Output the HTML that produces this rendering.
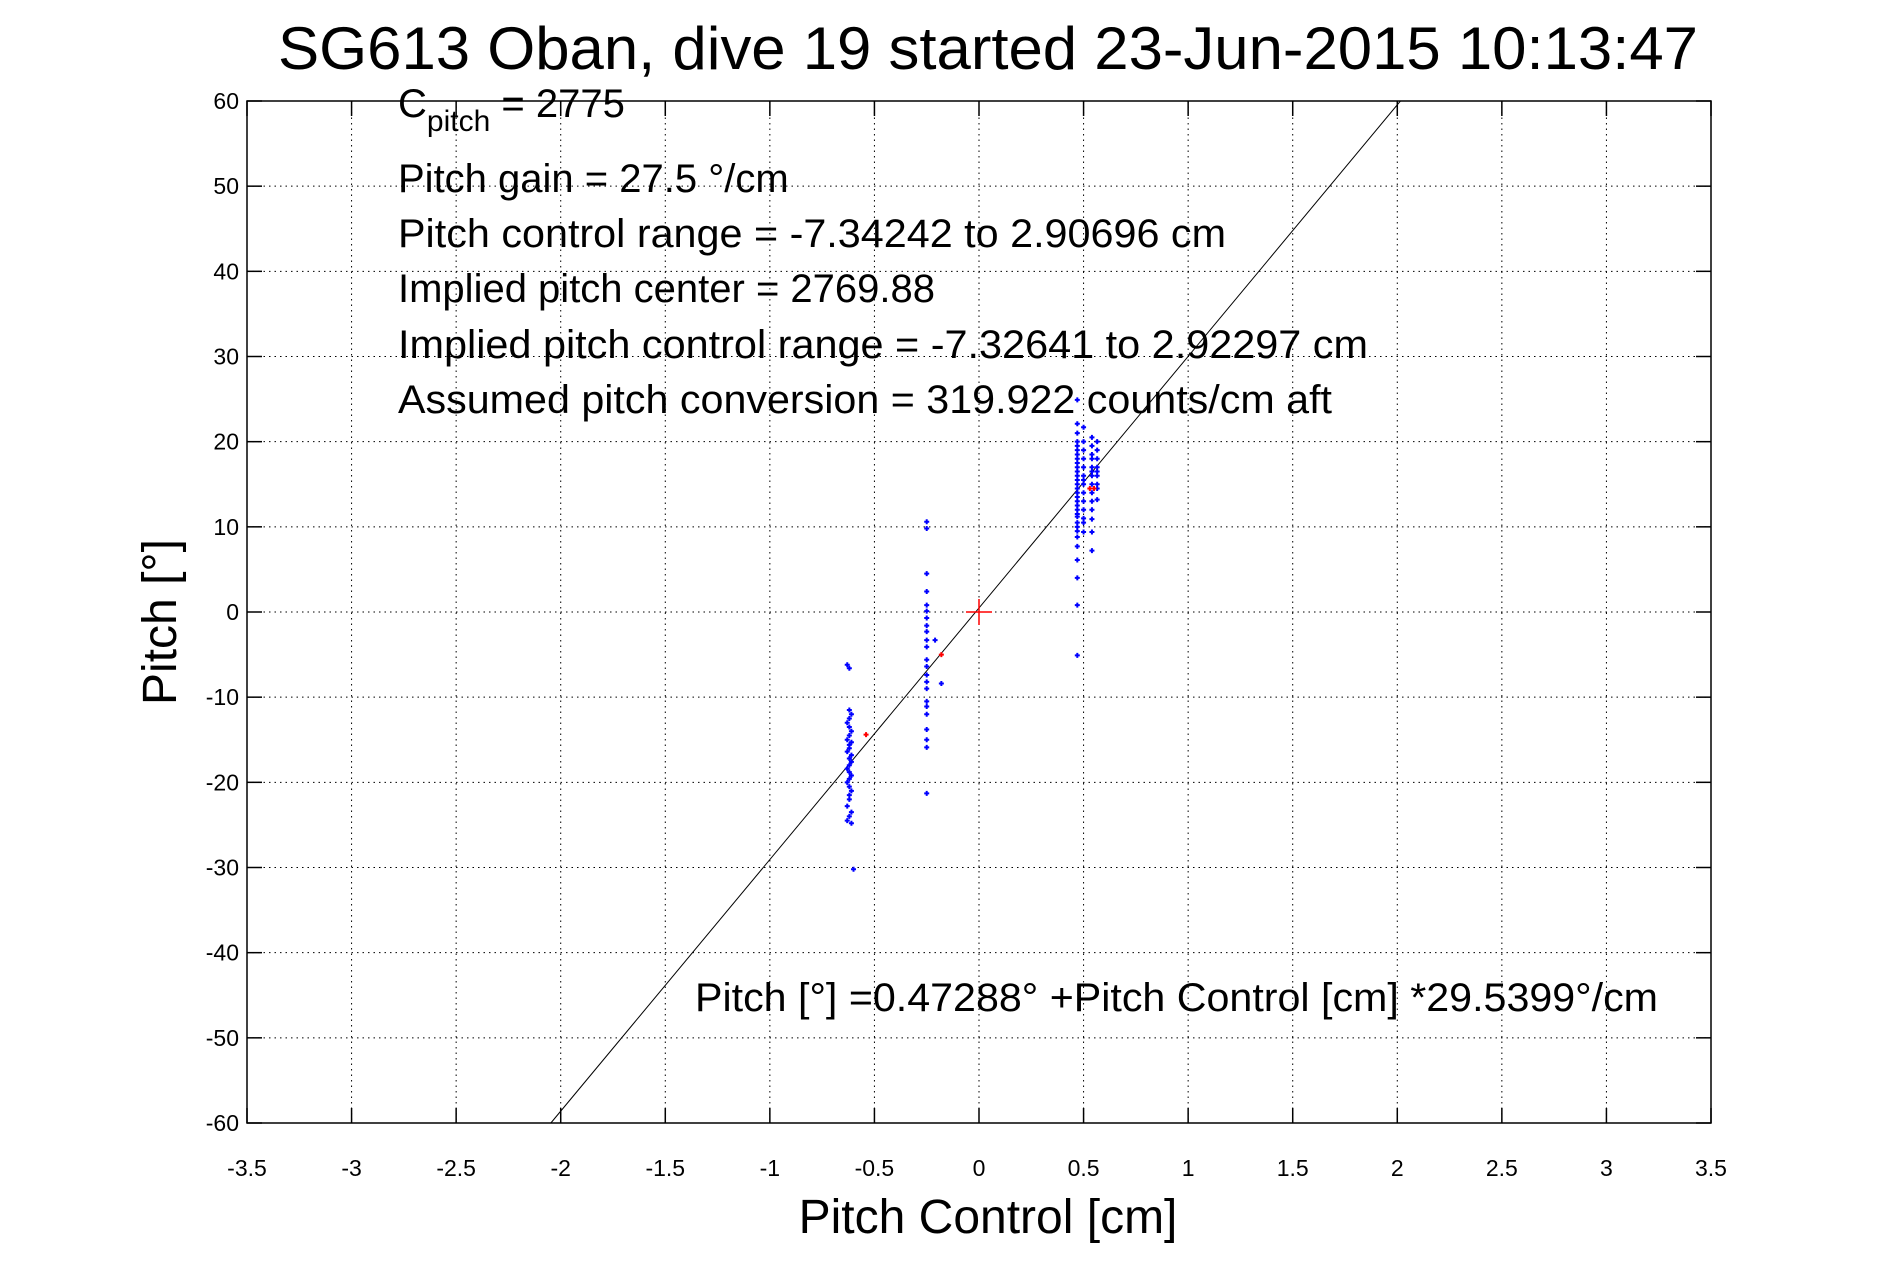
<!DOCTYPE html>
<html><head><meta charset="utf-8"><style>
body{margin:0;background:#fff}
svg{display:block;font-family:"Liberation Sans",sans-serif}
</style></head><body>
<svg id="chart" width="1891" height="1262" viewBox="0 0 1891 1262" xmlns="http://www.w3.org/2000/svg">
<rect width="1891" height="1262" fill="#fff"/>
<text x="988" y="69" font-size="60" text-anchor="middle" textLength="1420" lengthAdjust="spacingAndGlyphs">SG613 Oban, dive 19 started 23-Jun-2015 10:13:47</text>
<g id="grid"></g>
<g id="ticks"></g>
<g id="marks"></g>
<rect x="247" y="101" width="1464" height="1022" fill="none" stroke="#000" stroke-width="1.5"/>
<g font-size="40">
<text x="398" y="117">C<tspan font-size="30" dy="14">pitch</tspan><tspan dy="-14"> = 2775</tspan></text>
<text x="398" y="192">Pitch gain = 27.5 °/cm</text>
<text x="398" y="247" textLength="828" lengthAdjust="spacingAndGlyphs">Pitch control range = -7.34242 to 2.90696 cm</text>
<text x="398" y="302">Implied pitch center = 2769.88</text>
<text x="398" y="358" textLength="970" lengthAdjust="spacingAndGlyphs">Implied pitch control range = -7.32641 to 2.92297 cm</text>
<text x="398" y="413" textLength="934" lengthAdjust="spacingAndGlyphs">Assumed pitch conversion = 319.922 counts/cm aft</text>
<text x="695" y="1011" textLength="963" lengthAdjust="spacingAndGlyphs">Pitch [°] =0.47288° +Pitch Control [cm] *29.5399°/cm</text>
</g>
<text x="988" y="1233" font-size="48" text-anchor="middle">Pitch Control [cm]</text>
<text x="0" y="0" font-size="48" text-anchor="middle" transform="translate(176,622) rotate(-90)">Pitch [°]</text>
</svg>
<script>
const xTicks=[-3.5,-3,-2.5,-2,-1.5,-1,-0.5,0,0.5,1,1.5,2,2.5,3,3.5];
const yTicks=[60,50,40,30,20,10,0,-10,-20,-30,-40,-50,-60];
const fitIntercept=0.47288;
const fitSlope=29.5399;
const leftX=[-0.63,-0.62,-0.62,-0.61,-0.62,-0.63,-0.62,-0.61,-0.62,-0.63,-0.61,-0.62,-0.62,-0.63,-0.61,-0.62,-0.61,-0.62,-0.63,-0.62,-0.61,-0.62,-0.63,-0.62,-0.61,-0.62,-0.62,-0.63,-0.61,-0.62,-0.63,-0.61,-0.6];
const leftY=[-6.2,-6.6,-11.5,-12,-12.5,-13,-13.5,-14,-14.5,-15,-15.3,-15.6,-16,-16.4,-16.8,-17.2,-17.6,-18,-18.4,-18.8,-19.2,-19.6,-20,-20.5,-21,-21.5,-22,-22.8,-23.5,-24,-24.5,-24.8,-30.2];
const midX=[-0.25,-0.25,-0.25,-0.25,-0.25,-0.25,-0.25,-0.25,-0.25,-0.25,-0.25,-0.25,-0.25,-0.25,-0.25,-0.25,-0.25,-0.25,-0.25,-0.25,-0.25,-0.25,-0.25,-0.21,-0.18];
const midY=[10.6,9.8,4.5,2.4,0.8,0.1,-0.7,-1.6,-2.3,-3.3,-4.1,-5.6,-6.4,-7.4,-8.2,-9.0,-10.5,-11.1,-12.0,-13.8,-15.0,-15.9,-21.3,-3.3,-8.4];
const rightX=[0.47,0.47,0.47,0.47,0.47,0.47,0.47,0.47,0.47,0.47,0.47,0.47,0.47,0.47,0.47,0.47,0.47,0.47,0.47,0.47,0.47,0.47,0.47,0.47,0.47,0.47,0.47,0.47,0.47,0.47,0.47,
0.5,0.5,0.5,0.5,0.5,0.5,0.5,0.5,0.5,0.5,0.5,0.5,0.5,0.5,
0.54,0.54,0.54,0.54,0.54,0.54,0.54,0.54,0.54,0.54,0.54,0.54,0.54,0.54,
0.565,0.565,0.565,0.565,0.565,0.565,0.565,0.565,0.565];
const rightY=[24.9,22.1,21,20,19.5,19,18.5,18,17.5,17,16.5,16,15.5,15,14.5,14,13.5,13,12.5,12,11.5,11.2,10.5,10,9.5,8.8,7.7,6.1,4.0,0.8,-5.1,
21.7,20,19,18,17,16,15.5,15,14,13,12,11,10.5,9.4,
20.5,19.5,18.5,18,17,16.5,16,15,14,13,12,10.9,9.4,7.2,
20,19,18,17,16.5,16,15,14.5,13.2];
const redX=[-0.54,-0.18,0.53,0.55];
const redY=[-14.4,-5.0,14.5,14.5];

const X0=247,X1=1711,Y0=101,Y1=1123;
const sx=v=>X0+(v+3.5)/7*(X1-X0);
const sy=v=>Y1-(v+60)/120*(Y1-Y0);
const NS='http://www.w3.org/2000/svg';
function mk(tag,parent){const e=document.createElementNS(NS,tag);parent.appendChild(e);return e;}
const grid=document.getElementById('grid'),ticks=document.getElementById('ticks'),marks=document.getElementById('marks');
xTicks.forEach(t=>{
  const x=sx(t);
  if(t>-3.5&&t<3.5){
    const g=mk('line',grid);
    
    
    g.setAttribute('x1',x);g.setAttribute('x2',x);g.setAttribute('y1',Y0);g.setAttribute('y2',Y1);
    g.setAttribute('stroke','#000');g.setAttribute('stroke-width','1');g.setAttribute('stroke-dasharray','1.5 4');
  }
  [[Y1,Y1-15],[Y0,Y0+15]].forEach(p=>{const l=mk('line',ticks);
    
    
    l.setAttribute('x1',x);l.setAttribute('x2',x);l.setAttribute('y1',p[0]);l.setAttribute('y2',p[1]);l.setAttribute('stroke','#000');l.setAttribute('stroke-width','1.5');});
  const tx=mk('text',ticks);
  
  
  tx.setAttribute('x',x);tx.setAttribute('y',1176);tx.setAttribute('font-size','23');tx.setAttribute('text-anchor','middle');
  tx.textContent=String(t);
});
yTicks.forEach(t=>{
  const y=sy(t);
  if(t>-60&&t<60){
    const g=mk('line',grid);
    
    
    g.setAttribute('x1',X0);g.setAttribute('x2',X1);g.setAttribute('y1',y);g.setAttribute('y2',y);
    g.setAttribute('stroke','#000');g.setAttribute('stroke-width','1');g.setAttribute('stroke-dasharray','1.5 4');
  }
  [[X0,X0+15],[X1,X1-15]].forEach(p=>{const l=mk('line',ticks);
    
    
    l.setAttribute('x1',p[0]);l.setAttribute('x2',p[1]);l.setAttribute('y1',y);l.setAttribute('y2',y);l.setAttribute('stroke','#000');l.setAttribute('stroke-width','1.5');});
  const tx=mk('text',ticks);
  
  
  tx.setAttribute('x',239);tx.setAttribute('y',y+8);tx.setAttribute('font-size','23');tx.setAttribute('text-anchor','end');
  tx.textContent=String(t);
});
// fit line clipped to y range
const xa=(-60-fitIntercept)/fitSlope, xb=(60-fitIntercept)/fitSlope;
const fl=mk('line',marks);


fl.setAttribute('x1',sx(xa));fl.setAttribute('y1',sy(-60));fl.setAttribute('x2',sx(xb));fl.setAttribute('y2',sy(60));
fl.setAttribute('stroke','#000');fl.setAttribute('stroke-width','1');
function dots(xs,ys,color,name){
  xs.forEach((v,i)=>{const c=mk('path',marks);
    
    
    const x=sx(v),y=sy(ys[i]);
    c.setAttribute('d',`M${x-2.5},${y}h5M${x},${y-2.5}v5`);
    c.setAttribute('stroke',color);c.setAttribute('stroke-width','2');});
}
dots(leftX,leftY,'#0000ff','pitch-point');
dots(midX,midY,'#0000ff','pitch-point');
dots(rightX,rightY,'#0000ff','pitch-point');
dots(redX,redY,'#ff0000','flagged-point');
const cross=mk('path',marks);


cross.setAttribute('d',`M${sx(0)-13},${sy(0)}h26M${sx(0)},${sy(0)-13}v26`);
cross.setAttribute('stroke','#ff0000');cross.setAttribute('stroke-width','1.5');
</script>
</body></html>
